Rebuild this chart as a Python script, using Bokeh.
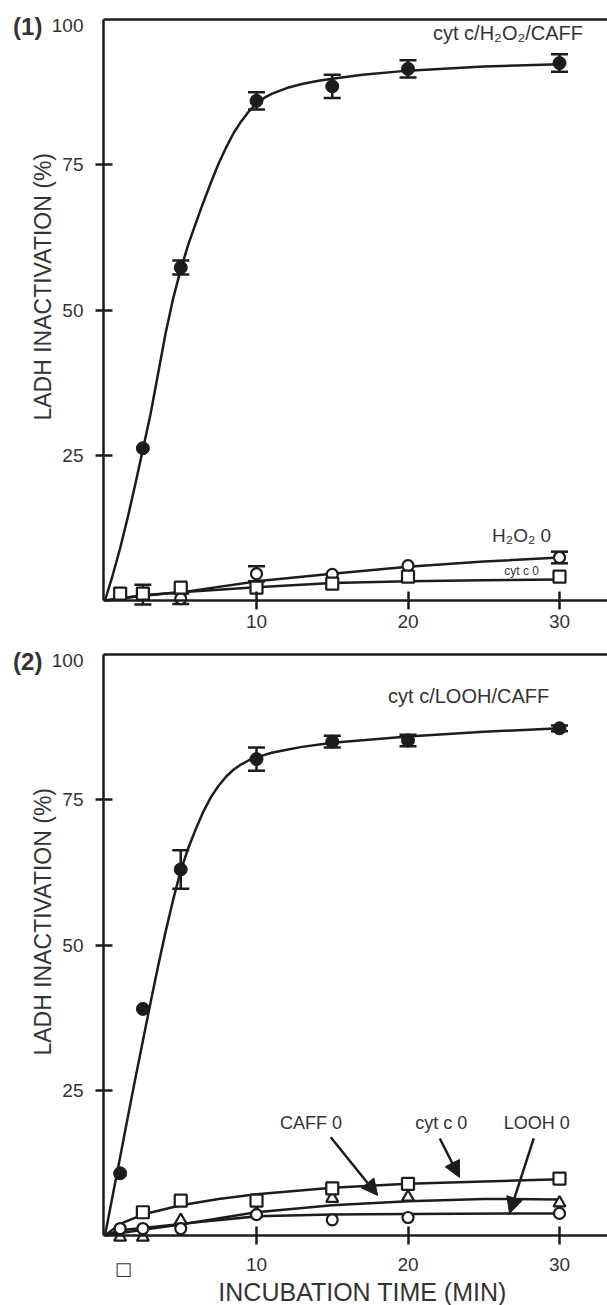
import math
from bokeh.plotting import figure
from bokeh.models import (Range1d, LinearAxis, FixedTicker, Label, Whisker, TeeHead,
                          ColumnDataSource, Arrow, NormalHead)
from bokeh.layouts import column
from bokeh.embed import file_html
from bokeh.resources import INLINE

# ---------------- data: panel (1) ----------------
p1_caff_t = [2.5, 5, 10, 15, 20, 30]
p1_caff_y = [26.2, 57.3, 86.0, 88.5, 91.5, 92.5]
p1_caff_e = [0.0, 1.2, 1.5, 2.0, 1.5, 1.5]
p1_caff_fit_t = [0, 0.5, 1, 1.5, 2, 2.5, 3, 3.5, 4, 4.5, 5, 5.5, 6, 6.5, 7, 7.5, 8, 8.5, 9,
                 9.5, 10, 10.5, 11, 12, 13, 14, 15, 17, 20, 25, 30]
p1_caff_fit_y = [0, 4.3, 9, 14.3, 20, 26, 32, 39, 46, 52, 57, 61.3, 65, 68.6, 72, 75.2, 78,
                 80.5, 82.5, 84.2, 85.5, 86.5, 87.2, 88.2, 88.9, 89.4, 89.8, 90.5, 91.2, 91.9, 92.3]

p1_h2o2_t = [2.5, 5, 10, 15, 20, 30]
p1_h2o2_y = [1.0, 0.3, 4.6, 4.5, 6.0, 7.4]
p1_h2o2_e = [1.7, 0.9, 1.3, 0.0, 0.0, 1.0]
p1_h2o2_fit_t = [0, 2.5, 5, 10, 15, 20, 25, 30]
p1_h2o2_fit_y = [0, 0.8, 1.4, 3.3, 4.6, 5.8, 6.7, 7.4]

p1_cytc_t = [1, 2.5, 5, 10, 15, 20, 30]
p1_cytc_y = [1.2, 1.2, 2.2, 2.2, 2.9, 4.1, 4.1]
p1_cytc_fit_t = [0, 2.5, 5, 10, 15, 20, 25, 30]
p1_cytc_fit_y = [0, 0.9, 1.4, 2.3, 3.0, 3.3, 3.5, 3.6]

# ---------------- data: panel (2) ----------------
p2_caff_t = [1, 2.5, 5, 10, 15, 20, 30]
p2_caff_y = [10.7, 39.0, 63.0, 82.0, 85.0, 85.2, 87.3]
p2_caff_e = [0.0, 0.0, 3.3, 2.0, 1.0, 1.0, 0.5]
p2_caff_fit_t = [0, 0.5, 1, 1.5, 2, 2.5, 3, 3.5, 4, 4.5, 5, 5.5, 6, 6.5, 7, 7.5, 8, 8.5, 9,
                 9.5, 10, 11, 12, 13, 15, 20, 25, 30]
p2_caff_fit_y = [0, 6.8, 13.5, 20.3, 27, 33.5, 40, 46.3, 52.3, 57.8, 62.8, 66.7, 70, 73, 75.5,
                 77.4, 79, 80.2, 81.1, 81.8, 82.3, 83.1, 83.6, 84.1, 84.8, 85.9, 86.7, 87.3]

p2_cytc_t = [2.5, 5, 10, 15, 20, 30]
p2_cytc_y = [4.0, 6.0, 6.0, 8.1, 8.9, 9.8]
p2_cytc_fit_t = [0, 1, 2.5, 5, 7.5, 10, 15, 20, 25, 30]
p2_cytc_fit_y = [0, 2.0, 3.6, 5.2, 6.3, 7.1, 8.2, 8.9, 9.3, 9.7]

p2_noc_t = [1, 2.5, 5, 10, 15, 20, 30]          # CAFF 0 (triangles)
p2_noc_y = [-0.3, -0.3, 2.6, 3.8, 6.4, 6.6, 5.6]
p2_noc_fit_t = [0, 2.5, 5, 10, 15, 20, 25, 30]
p2_noc_fit_y = [0, 1.0, 1.9, 4.0, 5.2, 5.9, 6.3, 6.2]

p2_nol_t = [1, 2.5, 5, 10, 15, 20, 30]          # LOOH 0 (circles)
p2_nol_y = [1.2, 1.2, 1.2, 3.6, 2.7, 3.1, 3.8]
p2_nol_fit_t = [0, 1, 2.5, 5, 10, 15, 20, 30]
p2_nol_fit_y = [0, 0.9, 1.3, 2.0, 3.3, 3.6, 3.7, 3.8]

x_ticks = [10, 20, 30]
y_ticks = [25, 50, 75]

INK = "#1c1c1c"
TXT = "#333333"
FONT = "Liberation Sans"

XS = 15.15   # px per minute
YS = 5.81    # px per percent
X0 = 104.5   # canvas x of t = 0


def make_panel(tag, height, top_px, zero_px, xlab_standoff):
    y_top = 100 + top_px / YS
    y_bot = -(height - zero_px) / YS
    p = figure(width=607, height=height, min_border=0,
               x_range=Range1d(-X0 / XS, (607 - X0) / XS),
               y_range=Range1d(y_bot, y_top),
               output_backend="svg", toolbar_location=None,
               background_fill_color="white", border_fill_color="white")
    p.outline_line_color = None
    p.grid.visible = False

    xa = p.xaxis[0]
    xa.ticker = FixedTicker(ticks=x_ticks)
    xa.fixed_location = 0
    xa.bounds = (-0.1, 40)
    xa.major_tick_in = 9
    xa.major_tick_out = 9
    xa.minor_tick_line_color = None
    xa.axis_line_width = 2.5
    xa.axis_line_color = INK
    xa.major_tick_line_width = 2.5
    xa.major_tick_line_color = INK
    xa.major_label_text_font = FONT
    xa.major_label_text_font_size = "19px"
    xa.major_label_text_color = TXT
    xa.major_label_standoff = xlab_standoff

    ya = p.yaxis[0]
    ya.ticker = FixedTicker(ticks=y_ticks)
    ya.fixed_location = -0.1
    ya.bounds = (0, 100)
    ya.major_tick_in = 9
    ya.major_tick_out = 8
    ya.minor_tick_line_color = None
    ya.axis_line_width = 2.5
    ya.axis_line_color = INK
    ya.major_tick_line_width = 2.5
    ya.major_tick_line_color = INK
    ya.major_label_text_font = FONT
    ya.major_label_text_font_size = "19px"
    ya.major_label_text_color = TXT
    ya.major_label_standoff = 12

    top = LinearAxis(ticker=FixedTicker(ticks=[]), axis_line_width=2.5, axis_line_color=INK,
                     major_tick_in=0, major_tick_out=0, minor_tick_in=0, minor_tick_out=0,
                     major_label_text_font_size="0px", fixed_location=100, bounds=(-0.1, 40))
    p.add_layout(top, "above")

    p.add_layout(Label(x=-0.1, y=99.0, x_offset=-20, text="100", text_align="right",
                       text_baseline="middle", text_font=FONT, text_font_size="19px",
                       text_color=TXT))
    p.add_layout(Label(x=-5.1, y=98.8, text=tag, text_align="center", text_baseline="middle",
                       text_font=FONT, text_font_size="24px", text_font_style="bold",
                       text_color=TXT))
    p.add_layout(Label(x=-4.1, y=54, text="LADH INACTIVATION (%)", angle=math.pi / 2,
                       text_align="center", text_baseline="middle", text_font=FONT,
                       text_font_size="23px", text_color=TXT))
    return p


def errbars(p, t, y, e):
    idx = [i for i in range(len(t)) if e[i] > 0]
    src = ColumnDataSource(dict(x=[t[i] for i in idx],
                                lo=[y[i] - e[i] for i in idx],
                                hi=[y[i] + e[i] for i in idx]))
    w = Whisker(base="x", lower="lo", upper="hi", source=src, line_width=2.5, line_color=INK,
                upper_head=TeeHead(size=17, line_width=2.5, line_color=INK),
                lower_head=TeeHead(size=17, line_width=2.5, line_color=INK))
    p.add_layout(w)


# ---------------- panel 1 ----------------
p1 = make_panel("(1)", 640, 19, 600, 5)
p1.line(p1_caff_fit_t, p1_caff_fit_y, line_width=2.5, color=INK)
p1.line(p1_h2o2_fit_t, p1_h2o2_fit_y, line_width=2.5, color=INK)
p1.line(p1_cytc_fit_t, p1_cytc_fit_y, line_width=2.5, color=INK)
errbars(p1, p1_caff_t, p1_caff_y, p1_caff_e)
errbars(p1, p1_h2o2_t, p1_h2o2_y, p1_h2o2_e)
p1.scatter(p1_h2o2_t, p1_h2o2_y, marker="circle", size=11, fill_color="white",
           line_color=INK, line_width=2.2)
p1.scatter(p1_cytc_t, p1_cytc_y, marker="square", size=12, fill_color="white",
           line_color=INK, line_width=2.2)
p1.scatter(p1_caff_t, p1_caff_y, marker="circle", size=13, fill_color=INK, line_color=INK)

p1.add_layout(Label(x=26.6, y=97.6, text="cyt c/H\u2082O\u2082/CAFF", text_align="center",
                    text_baseline="middle", text_font=FONT, text_font_size="20px",
                    text_color=TXT))
p1.add_layout(Label(x=27.5, y=11.2, text="H\u2082O\u2082 0", text_align="center",
                    text_baseline="middle", text_font=FONT, text_font_size="19px",
                    text_color=TXT))
p1.add_layout(Label(x=27.5, y=5.0, text="cyt c 0", text_align="center",
                    text_baseline="middle", text_font=FONT, text_font_size="12px",
                    text_color=TXT))

# ---------------- panel 2 ----------------
p2 = make_panel("(2)", 665, 14, 595, 13)
p2.line(p2_caff_fit_t, p2_caff_fit_y, line_width=2.5, color=INK)
p2.line(p2_cytc_fit_t, p2_cytc_fit_y, line_width=2.5, color=INK)
p2.line(p2_noc_fit_t, p2_noc_fit_y, line_width=2.5, color=INK)
p2.line(p2_nol_fit_t, p2_nol_fit_y, line_width=2.5, color=INK)
errbars(p2, p2_caff_t, p2_caff_y, p2_caff_e)
p2.scatter(p2_noc_t, p2_noc_y, marker="triangle", size=12, fill_color="white",
           line_color=INK, line_width=2.2)
p2.scatter(p2_nol_t, p2_nol_y, marker="circle", size=11, fill_color="white",
           line_color=INK, line_width=2.2)
p2.scatter(p2_cytc_t, p2_cytc_y, marker="square", size=12, fill_color="white",
           line_color=INK, line_width=2.2)
p2.scatter(p2_caff_t, p2_caff_y, marker="circle", size=13, fill_color=INK, line_color=INK)

p2.add_layout(Label(x=24.0, y=92.9, text="cyt c/LOOH/CAFF", text_align="center",
                    text_baseline="middle", text_font=FONT, text_font_size="20px",
                    text_color=TXT))
arrow_labels = ["CAFF 0", "cyt c 0", "LOOH 0"]
arrow_lab_x = [13.6, 22.2, 28.5]
arrow_lab_y = [19.3, 19.3, 19.3]
arrow_x0 = [14.9, 22.1, 28.3]
arrow_y0 = [16.9, 16.7, 16.7]
arrow_x1 = [18.0, 23.4, 26.7]
arrow_y1 = [6.9, 10.0, 3.8]
for i in range(3):
    p2.add_layout(Label(x=arrow_lab_x[i], y=arrow_lab_y[i], text=arrow_labels[i],
                        text_align="center", text_baseline="middle", text_font=FONT,
                        text_font_size="18px", text_color=TXT))
    p2.add_layout(Arrow(x_start=arrow_x0[i], y_start=arrow_y0[i], x_end=arrow_x1[i],
                        y_end=arrow_y1[i], line_width=2.5, line_color=INK,
                        end=NormalHead(size=16, fill_color=INK, line_color=INK)))

p2.add_layout(Label(x=17.0, y=-9.8, text="INCUBATION TIME (MIN)", text_align="center",
                    text_baseline="middle", text_font=FONT, text_font_size="25px",
                    text_color=TXT))
p2.add_layout(Label(x=1.2, y=-5.7, text="\u25a1", text_align="center",
                    text_baseline="middle", text_font="DejaVu Sans", text_font_size="18px",
                    text_color=TXT))

layout = column(p1, p2, spacing=0)
open("out.html", "w").write(file_html(layout, INLINE))
